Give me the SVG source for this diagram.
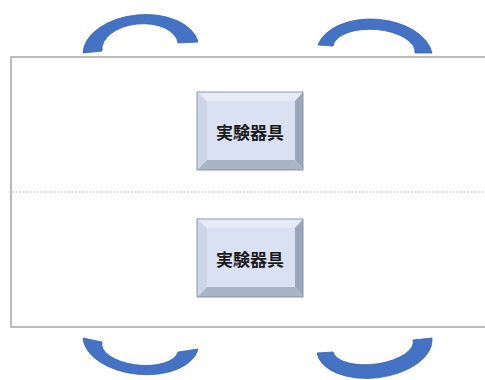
<svg xmlns="http://www.w3.org/2000/svg" width="485" height="380" viewBox="0 0 485 380">
<style>
.arc{fill:#4472c4;stroke:#3a62aa;stroke-width:0.8}
.face{fill:#d9e1f2}
.bt{fill:#e6ebf5}
.bl{fill:#cdd6e8}
.br{fill:#9ba6ba}
.bb{fill:#a9b4c7}
.edge{fill:none;stroke:#8a97ad;stroke-width:1}
.lbl{font-family:"Noto Sans CJK JP","Noto Sans CJK SC",sans-serif;font-size:17px;font-weight:bold;fill:#1a1a1a;text-anchor:middle;dominant-baseline:central}
</style>
<rect width="485" height="380" fill="#ffffff"/>
<g id="table">
<path d="M487,57 H11 V327 H487" fill="none" stroke="#a6a6a6" stroke-width="1.5"/>
<line x1="12" y1="192" x2="485" y2="192" stroke="#bdbdbd" stroke-width="1.2" stroke-dasharray="2,1.5"/>
</g>
<g id="chair-top-left"><path class="arc" d="M83,53 A58,36 -5 0 1 198,42 L178,43 A38,23 -5 0 0 102,51 Z"/></g>
<g id="chair-top-right"><path class="arc" d="M318,45 A58,36 4 0 1 432,53 L415,53 A41,20 4 0 0 333,46 Z"/></g>
<g id="chair-bottom-left"><path class="arc" d="M83,338 A58,34 5.5 0 0 198,349 L178,352 A38,18 5.5 0 1 102,342 Z"/></g>
<g id="chair-bottom-right"><path class="arc" d="M317,353 A58,33 -7 0 0 432,338 L413,340 A40,18 -7 0 1 333,352 Z"/></g>
<g id="equipment-1">
<polygon class="bt" points="197,92 303,92 295,101 207,101"/>
<polygon class="bl" points="197,92 207,101 207,160 197,170"/>
<polygon class="br" points="303,92 303,170 295,160 295,101"/>
<polygon class="bb" points="197,170 303,170 295,160 207,160"/>
<rect class="face" x="207" y="101" width="88" height="59"/>
<rect class="edge" x="197" y="92" width="106" height="78"/>
<text class="lbl" x="250" y="131">実験器具</text>
</g>
<g id="equipment-2">
<polygon class="bt" points="197,219 303,219 295,228 207,228"/>
<polygon class="bl" points="197,219 207,228 207,287 197,297"/>
<polygon class="br" points="303,219 303,297 295,287 295,228"/>
<polygon class="bb" points="197,297 303,297 295,287 207,287"/>
<rect class="face" x="207" y="228" width="88" height="59"/>
<rect class="edge" x="197" y="219" width="106" height="78"/>
<text class="lbl" x="250" y="258">実験器具</text>
</g>
</svg>
